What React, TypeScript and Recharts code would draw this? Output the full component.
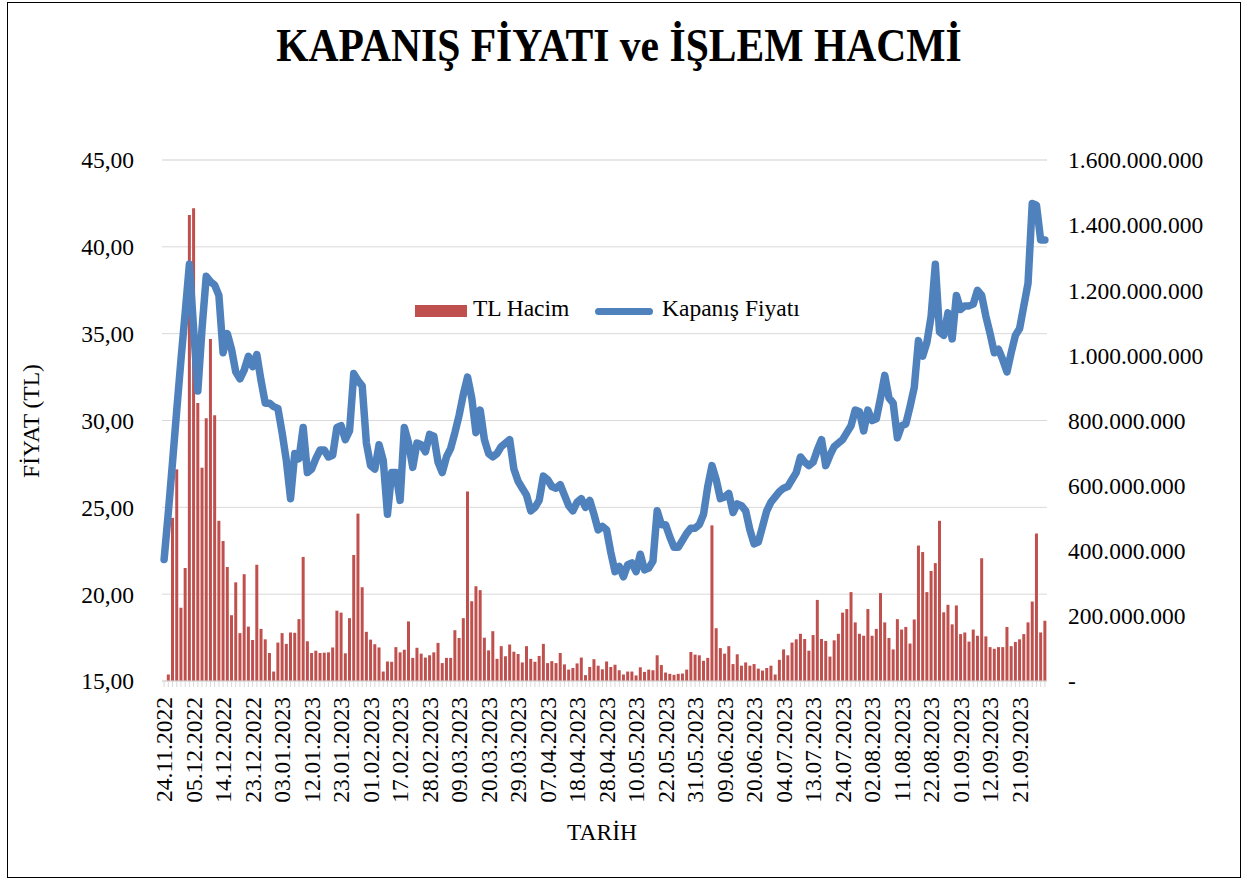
import React from 'react';
import { ComposedChart, Bar, Line, XAxis, YAxis, CartesianGrid, Legend } from 'recharts';

const FONT = "'Liberation Serif', 'Times New Roman', serif";

// trading days 24.11.2022 - 29.09.2023
const dates = [
  '24.11.2022','25.11.2022','28.11.2022','29.11.2022','30.11.2022',
  '01.12.2022','02.12.2022','05.12.2022','06.12.2022','07.12.2022','08.12.2022','09.12.2022','12.12.2022','13.12.2022','14.12.2022','15.12.2022','16.12.2022','19.12.2022','20.12.2022','21.12.2022','22.12.2022','23.12.2022','26.12.2022','27.12.2022','28.12.2022','29.12.2022','30.12.2022',
  '02.01.2023','03.01.2023','04.01.2023','05.01.2023','06.01.2023','09.01.2023','10.01.2023','11.01.2023','12.01.2023','13.01.2023','16.01.2023','17.01.2023','18.01.2023','19.01.2023','20.01.2023','23.01.2023','24.01.2023','25.01.2023','26.01.2023','27.01.2023','30.01.2023','31.01.2023',
  '01.02.2023','02.02.2023','03.02.2023','06.02.2023','07.02.2023','15.02.2023','16.02.2023','17.02.2023','20.02.2023','21.02.2023','22.02.2023','23.02.2023','24.02.2023','27.02.2023','28.02.2023',
  '01.03.2023','02.03.2023','03.03.2023','06.03.2023','07.03.2023','08.03.2023','09.03.2023','10.03.2023','13.03.2023','14.03.2023','15.03.2023','16.03.2023','17.03.2023','20.03.2023','21.03.2023','22.03.2023','23.03.2023','24.03.2023','27.03.2023','28.03.2023','29.03.2023','30.03.2023','31.03.2023',
  '03.04.2023','04.04.2023','05.04.2023','06.04.2023','07.04.2023','10.04.2023','11.04.2023','12.04.2023','13.04.2023','14.04.2023','17.04.2023','18.04.2023','19.04.2023','20.04.2023','24.04.2023','25.04.2023','26.04.2023','27.04.2023','28.04.2023',
  '02.05.2023','03.05.2023','04.05.2023','05.05.2023','08.05.2023','09.05.2023','10.05.2023','11.05.2023','12.05.2023','15.05.2023','16.05.2023','17.05.2023','18.05.2023','22.05.2023','23.05.2023','24.05.2023','25.05.2023','26.05.2023','29.05.2023','30.05.2023','31.05.2023',
  '01.06.2023','02.06.2023','05.06.2023','06.06.2023','07.06.2023','08.06.2023','09.06.2023','12.06.2023','13.06.2023','14.06.2023','15.06.2023','16.06.2023','19.06.2023','20.06.2023','21.06.2023','22.06.2023','23.06.2023','26.06.2023','27.06.2023',
  '03.07.2023','04.07.2023','05.07.2023','06.07.2023','07.07.2023','10.07.2023','11.07.2023','12.07.2023','13.07.2023','14.07.2023','17.07.2023','18.07.2023','19.07.2023','20.07.2023','21.07.2023','24.07.2023','25.07.2023','26.07.2023','27.07.2023','28.07.2023','31.07.2023',
  '01.08.2023','02.08.2023','03.08.2023','04.08.2023','07.08.2023','08.08.2023','09.08.2023','10.08.2023','11.08.2023','14.08.2023','15.08.2023','16.08.2023','17.08.2023','18.08.2023','21.08.2023','22.08.2023','23.08.2023','24.08.2023','25.08.2023','28.08.2023','29.08.2023','31.08.2023',
  '01.09.2023','04.09.2023','05.09.2023','06.09.2023','07.09.2023','08.09.2023','11.09.2023','12.09.2023','13.09.2023','14.09.2023','15.09.2023','18.09.2023','19.09.2023','20.09.2023','21.09.2023','22.09.2023','25.09.2023','26.09.2023','27.09.2023','28.09.2023','29.09.2023',
];

const tickDates = [
  '24.11.2022','05.12.2022','14.12.2022','23.12.2022','03.01.2023','12.01.2023','23.01.2023','01.02.2023',
  '17.02.2023','28.02.2023','09.03.2023','20.03.2023','29.03.2023','07.04.2023','18.04.2023','28.04.2023',
  '10.05.2023','22.05.2023','31.05.2023','09.06.2023','20.06.2023','04.07.2023','13.07.2023','24.07.2023',
  '02.08.2023','11.08.2023','22.08.2023','01.09.2023','12.09.2023','21.09.2023',
];

// TL Hacim, million TL
const volume = [
  0, 20, 501, 650, 225, 347, 1431, 1452, 854, 655,
  807, 1050, 816, 492, 430, 350, 202, 303, 147, 328,
  167, 126, 357, 160, 128, 86, 29, 118, 147, 114,
  149, 148, 190, 381, 122, 86, 93, 86, 87, 88,
  103, 216, 210, 85, 193, 387, 514, 288, 151, 127,
  113, 103, 29, 60, 59, 104, 88, 96, 183, 71,
  102, 84, 72, 79, 88, 117, 55, 71, 71, 156,
  132, 193, 582, 245, 291, 279, 133, 94, 153, 68,
  107, 76, 112, 90, 83, 57, 107, 68, 59, 77,
  114, 55, 61, 55, 86, 51, 35, 40, 54, 72,
  18, 43, 67, 47, 36, 60, 43, 50, 33, 20,
  29, 29, 17, 42, 28, 35, 33, 79, 49, 26,
  22, 19, 22, 23, 35, 89, 81, 79, 62, 71,
  478, 162, 101, 84, 107, 52, 82, 47, 57, 47,
  52, 38, 32, 40, 47, 20, 65, 97, 79, 118,
  128, 145, 129, 93, 141, 249, 129, 123, 75, 125,
  145, 210, 221, 273, 180, 145, 139, 221, 139, 160,
  270, 180, 132, 97, 190, 158, 166, 115, 189, 416,
  396, 273, 338, 362, 492, 211, 234, 174, 232, 144,
  149, 121, 158, 139, 377, 137, 104, 99, 104, 104,
  166, 107, 120, 128, 144, 180, 244, 453, 149, 185,
];

// Kapanış Fiyatı, TL
const price = [
  22.0, 24.7, 27.6, 30.6, 33.5, 36.2, 39.0, 35.3, 31.7, 35.3,
  38.3, 38.0, 37.8, 37.2, 33.9, 35.0, 34.1, 32.8, 32.4, 32.9,
  33.7, 33.1, 33.8, 32.3, 31.0, 31.0, 30.8, 30.7, 29.3, 27.7,
  25.5, 28.1, 27.8, 29.6, 27.0, 27.2, 27.8, 28.3, 28.3, 27.9,
  28.0, 29.6, 29.7, 28.9, 29.4, 32.7, 32.3, 32.0, 28.7, 27.4,
  27.2, 28.6, 27.7, 24.6, 27.0, 27.0, 25.4, 29.6, 28.7, 27.3,
  28.7, 28.6, 28.2, 29.2, 29.1, 27.6, 27.0, 27.9, 28.4, 29.3,
  30.3, 31.5, 32.5, 31.3, 29.3, 30.6, 28.9, 28.1, 27.9, 28.1,
  28.5, 28.7, 28.9, 27.2, 26.5, 26.1, 25.7, 24.8, 25.0, 25.4,
  26.8, 26.6, 26.2, 26.1, 26.3, 25.7, 25.1, 24.8, 25.3, 25.5,
  25.0, 25.4, 24.6, 23.7, 23.9, 23.7, 22.4, 21.3, 21.6, 21.0,
  21.7, 21.8, 21.3, 22.3, 21.4, 21.5, 21.9, 24.8, 24.0, 24.0,
  23.3, 22.7, 22.7, 23.1, 23.5, 23.8, 23.8, 24.0, 24.6, 26.2,
  27.4, 26.6, 25.5, 25.6, 25.8, 24.7, 25.2, 25.1, 24.8, 23.7,
  22.9, 23.0, 23.9, 24.8, 25.3, 25.6, 25.9, 26.1, 26.2, 26.6,
  27.0, 27.9, 27.6, 27.4, 27.6, 28.3, 28.9, 27.4, 28.0, 28.5,
  28.7, 28.9, 29.3, 29.7, 30.6, 30.5, 29.4, 30.6, 30.0, 30.1,
  31.3, 32.6, 31.3, 31.0, 29.0, 29.7, 29.8, 30.8, 31.9, 34.6,
  33.7, 34.5, 36.0, 39.0, 35.1, 34.9, 36.2, 34.7, 37.2, 36.4,
  36.6, 36.6, 36.7, 37.5, 37.2, 36.0, 35.0, 33.9, 34.1, 33.5,
  32.8, 33.9, 34.9, 35.3, 36.6, 37.9, 42.5, 42.4, 40.4, 40.4,
];

const priceTicks = [15, 20, 25, 30, 35, 40, 45];
const volumeTicks = [0, 200, 400, 600, 800, 1000, 1200, 1400, 1600];
const minorTicks = Array.from({ length: 31 }, (_, i) => 15 + i);

const data = dates.map((d, i) => ({ date: d, hacim: volume[i], fiyat: price[i] }));

const fmtPrice = (v: number) => v.toFixed(2).replace('.', ',');
const fmtVolume = (v: number) =>
  v === 0 ? '-' : String(v * 1000000).replace(/\B(?=(\d{3})+(?!\d))/g, '.');

const DateTick = (props: any) => {
  const { x, y, payload } = props;
  if (!tickDates.includes(payload.value)) return <g />;
  return (
    <text x={x} y={y} dy="0.35em" textAnchor="end" transform={`rotate(-90 ${x} ${y})`}
      fill="#000" fontSize={23.5} fontFamily={FONT}>
      {payload.value}
    </text>
  );
};

const LegendBox = () => (
  <div style={{ position: 'relative', width: 420, height: 34, fontFamily: FONT, fontSize: 23.5, color: '#000' }}>
    <div style={{ position: 'absolute', left: 10, top: 15, width: 52, height: 12, background: '#C0504D' }} />
    <div style={{ position: 'absolute', left: 68, top: 7, lineHeight: '23.5px', whiteSpace: 'nowrap' }}>TL Hacim</div>
    <div style={{ position: 'absolute', left: 190, top: 17.5, width: 58, height: 7, borderRadius: 4, background: '#4F81BD' }} />
    <div style={{ position: 'absolute', left: 257, top: 7, lineHeight: '23.5px', whiteSpace: 'nowrap' }}>Kapanış Fiyatı</div>
  </div>
);

export default function App() {
  return (
    <div style={{ position: 'absolute', left: 0, top: 0, width: 1249, height: 881, background: '#fff', fontFamily: FONT }}>
      <div style={{ position: 'absolute', left: 7, top: 2, width: 1234, height: 876, border: '1.5px solid #000', boxSizing: 'border-box' }} />
      <ComposedChart width={1249} height={881} data={data}
        margin={{ top: 160, right: 22, bottom: 50, left: 62 }} barCategoryGap="14%">
        {/* minor gridlines: invisible axis of width 0 */}
        <YAxis yAxisId="minor" width={0} domain={[15, 45]} ticks={minorTicks}
          tick={false} axisLine={false} tickLine={false} />
        <CartesianGrid yAxisId="minor" vertical={false} stroke="#ECECEC" />
        <CartesianGrid yAxisId="left" vertical={false} stroke="#D9D9D9" />
        <XAxis dataKey="date" interval={0} height={150} tick={<DateTick />}
          tickSize={6} tickMargin={10} tickLine={{ stroke: '#D9D9D9' }} axisLine={{ stroke: '#D9D9D9' }} />
        <YAxis yAxisId="left" orientation="left" width={100} domain={[15, 45]} ticks={priceTicks}
          tickFormatter={fmtPrice} axisLine={false} tickLine={false} tickSize={0} tickMargin={28}
          tick={{ fill: '#000', fontSize: 23.5, fontFamily: FONT }} />
        <YAxis yAxisId="right" orientation="right" width={180} domain={[0, 1600]} ticks={volumeTicks}
          tickFormatter={fmtVolume} axisLine={false} tickLine={false} tickSize={0} tickMargin={21}
          tick={{ fill: '#000', fontSize: 23.5, fontFamily: FONT, textAnchor: 'start' }} />
        <Legend layout="horizontal" verticalAlign="middle" align="center"
          wrapperStyle={{ top: 290, left: 405, width: 420, height: 34 }} content={() => <LegendBox />} />
        <Bar yAxisId="right" dataKey="hacim" name="TL Hacim" fill="#C0504D" isAnimationActive={false} />
        <Line yAxisId="left" dataKey="fiyat" name="Kapanış Fiyatı" type="linear" stroke="#4F81BD"
          strokeWidth={7.5} strokeLinejoin="round" strokeLinecap="round" dot={false} activeDot={false}
          isAnimationActive={false} />
      </ComposedChart>
      <div style={{ position: 'absolute', left: 0, top: 21.6, width: 1238, textAlign: 'center', fontSize: 47,
        fontWeight: 'bold', lineHeight: '47px', whiteSpace: 'nowrap', transform: 'scaleX(0.885)', transformOrigin: '619px 0' }}>
        KAPANIŞ FİYATI ve İŞLEM HACMİ
      </div>
      <div style={{ position: 'absolute', left: -69, top: 408, width: 200, height: 26, lineHeight: '26px', textAlign: 'center',
        fontSize: 23.5, transform: 'rotate(-90deg)' }}>
        FİYAT (TL)
      </div>
      <div style={{ position: 'absolute', left: 502, top: 819, width: 200, height: 26, lineHeight: '26px', textAlign: 'center', fontSize: 23.5 }}>
        TARİH
      </div>
    </div>
  );
}
